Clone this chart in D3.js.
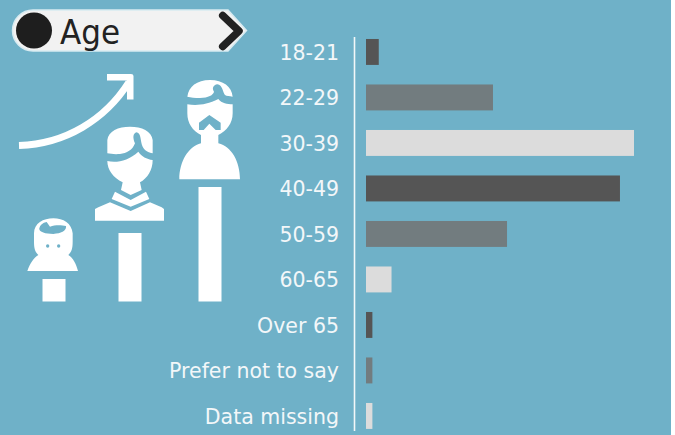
<!DOCTYPE html>
<html><head><meta charset="utf-8">
<script src="https://cdn.jsdelivr.net/npm/d3@7/dist/d3.min.js"></script>
<style>html,body{margin:0;padding:0;background:#fff;overflow:hidden}svg{display:block}</style>
</head><body><svg id="c" width="675" height="435"></svg>
<script>
const categories = ["18-21","22-29","30-39","40-49","50-59","60-65","Over 65","Prefer not to say","Data missing"];
const values = [2,19.9,42,39.8,22.1,4,1,1,1];
const barColors = ["#555555","#727c7f","#dcdcdc","#555555","#727c7f","#dcdcdc","#555555","#727c7f","#dcdcdc"];
const titleText = "Age";

const font = "'DejaVu Sans',sans-serif";
const condensed = "'DejaVu Sans Condensed','DejaVu Sans',sans-serif";
const bg = "#6fb1c8";
const svg = d3.select("#c");
svg.append("rect").attr("width",675).attr("height",435).attr("fill","#fff");
svg.append("rect").attr("width",671).attr("height",435).attr("fill",bg);

const y = d3.scaleBand().domain(categories).range([29.2,438.7]).paddingInner(0.43).paddingOuter(0.215);
const x = d3.scaleLinear().domain([0,42]).range([366,634]);

svg.append("g").selectAll("rect").data(categories).join("rect")
  .attr("x",x(0)).attr("y",d=>y(d))
  .attr("width",(d,i)=>x(values[i])-x(0)).attr("height",y.bandwidth())
  .attr("fill",(d,i)=>barColors[i]);

const axis = d3.axisLeft(y).tickSize(0).tickPadding(15);
const ax = svg.append("g").attr("transform","translate(354,0)").call(axis);
ax.select(".domain").remove();
ax.selectAll("text").attr("dy","0.39em").attr("fill","#f3f7f9").attr("font-family",font).attr("font-size",20.5);
svg.append("line").attr("x1",354.5).attr("x2",354.5).attr("y1",37).attr("y2",431).attr("stroke","#f2f7f9").attr("stroke-width",1.6);

// header
svg.append("path").attr("d","M33,10 H228 L246.500,30.500 L228,51 H33 A20.500,20.500 0 0 1 33,10 Z")
  .attr("fill","#f2f2f2").attr("stroke","#d8ebf1").attr("stroke-width",1.5);
svg.append("circle").attr("cx",34).attr("cy",30.5).attr("r",18).attr("fill","#1e1e1e");
svg.append("text").attr("x",60).attr("y",44).attr("font-family",condensed).attr("font-stretch","condensed").attr("font-size",34.5).attr("fill","#222").text(titleText);
svg.append("path").attr("d","M222.700,15.500 L239,31 L222.700,46.500").attr("fill","none").attr("stroke","#222").attr("stroke-width",7.5).attr("stroke-linejoin","round").attr("stroke-linecap","round");

// icons
const w = svg.append("g").attr("fill","#fff");
w.append("path").attr("d","M19,145.500 C65,144 105,120 129,82").attr("fill","none").attr("stroke","#fff").attr("stroke-width",7);
w.append("path").attr("d","M107,74 H131 Q133.500,74 133.500,76 V99.500 H127 V80.500 H107 Z");

// pillars
w.append("rect").attr("x",198.5).attr("y",187).attr("width",23).attr("height",114.5);
w.append("rect").attr("x",118.5).attr("y",233).attr("width",23).attr("height",68.5);
w.append("rect").attr("x",42.5).attr("y",279).attr("width",23).attr("height",22.5);

// tall and medium people, drawn in a 3x grid
const g3 = w.append("g").attr("transform","translate(90,75) scale(0.33333)");
g3.append("path").attr("d","M292,65 C296,35 320,15 360,15 C400,15 425,35 428,65 C418,63 410,64 405,60 C398,52 398,30 382,28 C370,30 365,40 372,50 C370,60 355,68 330,69 C315,69 302,67 292,65 Z");
g3.append("path").attr("fill-rule","evenodd").attr("d","M292,88 C320,92 350,90 385,72 C395,85 412,88 428,88 V115 C428,145 410,168 385,180 V205 C425,215 450,260 450,313 H268 C268,260 295,215 333,205 V180 C308,168 292,145 292,115 Z M327,143 L358,120 L392,143 V165 H377 L358,146 L341,165 H327 Z");
g3.append("path").attr("d","M52,235 V195 C55,168 85,155 120,155 C155,155 185,168 188,195 V235 C175,232 165,228 158,215 C150,200 155,175 140,172 C128,175 128,190 135,205 C128,225 110,235 90,237 C75,238 62,237 52,235 Z");
g3.append("path").attr("d","M52,258 C80,264 115,258 145,230 C155,245 170,252 188,255 C188,285 172,310 150,322 L155,345 L122,360 L93,345 L98,322 C70,308 52,285 52,258 Z");
g3.append("path").attr("d","M75,350 L122,375 L168,350 L178,372 L122,395 L65,372 Z");
g3.append("path").attr("d","M15,437 V402 L25,397 L60,382 L122,408 L180,382 L215,397 L222,402 V437 Z");

// small person
const g4 = w.append("g").attr("transform","translate(20,210) scale(0.33333)");
g4.append("path").attr("fill-rule","evenodd").attr("d","M22,183 C30,160 40,145 55,135 C45,125 42,115 42,95 V70 C42,40 70,25 100,25 C130,25 155,40 158,70 V95 C158,115 155,125 145,135 C160,145 168,160 174,183 Z M58,55 C56,66 75,72 100,72 C125,70 140,62 138,48 C125,45 105,44 90,50 L80,36 C68,38 60,45 58,55 Z");
g4.append("circle").attr("cx",83).attr("cy",108).attr("r",5).attr("fill",bg);
g4.append("circle").attr("cx",116).attr("cy",108).attr("r",5).attr("fill",bg);
</script></body></html>
